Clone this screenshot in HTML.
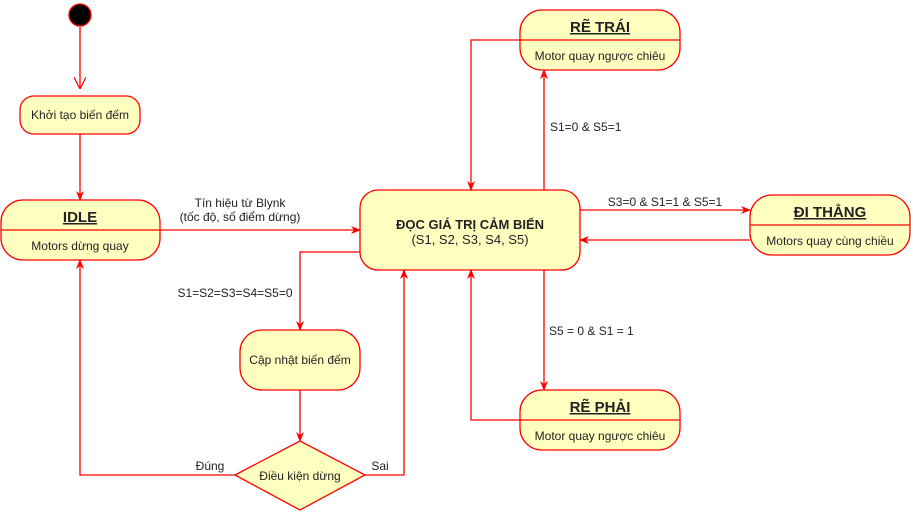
<!DOCTYPE html>
<html><head><meta charset="utf-8"><style>
body{margin:0;background:#fff;width:911px;height:511px;overflow:hidden}
svg text{font-family:"Liberation Sans",Arial,sans-serif;fill:#222}
</style></head><body>
<svg width="911" height="511" viewBox="0 0 911 511" xmlns="http://www.w3.org/2000/svg">
<defs>
<marker id="a" viewBox="0 0 10 10" refX="9" refY="5" markerWidth="10" markerHeight="10" orient="auto" markerUnits="userSpaceOnUse"><path d="M0,1 L10,5 L0,9 L3,5 z" fill="#f00"/></marker>
<marker id="o" viewBox="0 0 10 10" refX="10" refY="5" markerWidth="12" markerHeight="12" orient="auto" markerUnits="userSpaceOnUse"><path d="M0,0 L10,5 L0,10" fill="none" stroke="#f00" stroke-width="1"/></marker>
</defs>
<g fill="#ffffc0" stroke="#f00" stroke-width="1.3">
<circle cx="80" cy="15" r="11" fill="#000" stroke="#f00"/>
<rect x="20" y="96" width="120" height="38" rx="14"/>
<rect x="1" y="200" width="159" height="60" rx="22"/>
<rect x="360" y="190" width="220" height="80" rx="18"/>
<rect x="520" y="10" width="160" height="60" rx="22"/>
<rect x="750" y="195" width="160" height="60" rx="22"/>
<rect x="520" y="390" width="160" height="60" rx="22"/>
<rect x="240" y="330" width="120" height="60" rx="22"/>
<polygon points="235,475 300,441 365,475 300,510"/>
</g>
<g stroke="#f00" stroke-width="1.3" fill="none">
<line x1="1" y1="230" x2="160" y2="230"/>
<line x1="520" y1="40" x2="680" y2="40"/>
<line x1="750" y1="225" x2="910" y2="225"/>
<line x1="520" y1="420" x2="680" y2="420"/>
<line x1="80" y1="27" x2="80" y2="89" marker-end="url(#o)"/>
<line x1="80" y1="134" x2="80" y2="200" marker-end="url(#a)"/>
<line x1="160" y1="230" x2="360" y2="230" marker-end="url(#a)"/>
<line x1="544" y1="190" x2="544" y2="70" marker-end="url(#a)"/>
<polyline points="520,40 471,40 471,190" marker-end="url(#a)"/>
<line x1="580" y1="210" x2="750" y2="210" marker-end="url(#a)"/>
<line x1="750" y1="240" x2="580" y2="240" marker-end="url(#a)"/>
<line x1="544" y1="270" x2="544" y2="390" marker-end="url(#a)"/>
<polyline points="520,420 471,420 471,270" marker-end="url(#a)"/>
<polyline points="360,252 300,252 300,330" marker-end="url(#a)"/>
<line x1="300" y1="390" x2="300" y2="441" marker-end="url(#a)"/>
<polyline points="235,475 80,475 80,260" marker-end="url(#a)"/>
<polyline points="365,475 404,475 404,270" marker-end="url(#a)"/>
</g>
<g font-size="12" text-anchor="middle">
<text x="80" y="119">Khởi tạo biến đếm</text>
<text x="80" y="222" font-size="15" font-weight="bold" text-decoration="underline">IDLE</text>
<text x="80" y="250">Motors dừng quay</text>
<text x="470" y="229" font-size="13" font-weight="bold">ĐỌC GIÁ TRỊ CẢM BIẾN</text>
<text x="470" y="244" font-size="13">(S1, S2, S3, S4, S5)</text>
<text x="600" y="32" font-size="15" font-weight="bold" text-decoration="underline">RẼ TRÁI</text>
<text x="600" y="60">Motor quay ngược chiêu</text>
<text x="830" y="217" font-size="15" font-weight="bold" text-decoration="underline">ĐI THẲNG</text>
<text x="830" y="245">Motors quay cùng chiều</text>
<text x="600" y="412" font-size="15" font-weight="bold" text-decoration="underline">RẼ PHẢI</text>
<text x="600" y="440">Motor quay ngược chiêu</text>
<text x="300" y="364">Cập nhật biến đếm</text>
<text x="300" y="480">Điều kiện dừng</text>
<text x="240" y="207">Tín hiệu từ Blynk</text>
<text x="240" y="221">(tốc độ, số điểm dừng)</text>
<text x="665" y="206">S3=0 &amp; S1=1 &amp; S5=1</text>
<text x="235" y="297">S1=S2=S3=S4=S5=0</text>
<text x="210" y="470">Đúng</text>
<text x="380" y="470">Sai</text>
</g>
<g font-size="12">
<text x="550" y="131">S1=0 &amp; S5=1</text>
<text x="549" y="335">S5 = 0 &amp; S1 = 1</text>
</g>
</svg>
</body></html>
